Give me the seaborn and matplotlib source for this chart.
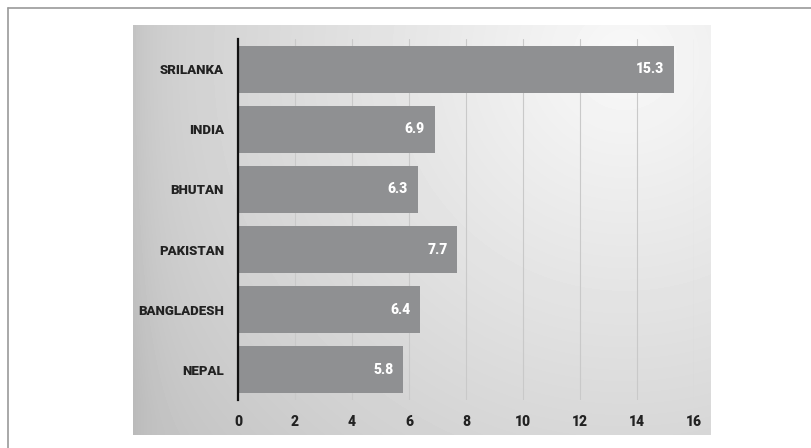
import numpy as np
import pandas as pd
import matplotlib
matplotlib.use("Agg")
import matplotlib.pyplot as plt
from matplotlib.lines import Line2D
import seaborn as sns

countries = ["SRILANKA", "INDIA", "BHUTAN", "PAKISTAN", "BANGLADESH", "NEPAL"]
values = [15.3, 6.9, 6.3, 7.7, 6.4, 5.8]
x_ticks = [0, 2, 4, 6, 8, 10, 12, 14, 16]

df = pd.DataFrame({"country": countries, "value": values})

sns.set_theme(style="white")
plt.rcParams["font.family"] = ["Roboto", "DejaVu Sans"]

W, H = 812, 448
fig = plt.figure(figsize=(W / 100, H / 100), dpi=100)
fig.patch.set_facecolor("white")

# thin frame along top and left edges
fig.add_artist(Line2D([8 / W, 1], [1 - 8 / H, 1 - 8 / H], color="#9a9a9a", lw=1.2))
fig.add_artist(Line2D([8 / W, 8 / W], [0, 1 - 8 / H], color="#9a9a9a", lw=1.2))

# gradient panel behind the chart
px0, py0, px1, py1 = 133, 25, 711, 435
bg = fig.add_axes([px0 / W, 1 - py1 / H, (px1 - px0) / W, (py1 - py0) / H], zorder=0)
gw, gh = px1 - px0, py1 - py0
xx, yy = np.meshgrid(np.arange(gw), np.arange(gh))
cx, cy = 0.85 * gw, 0.08 * gh
d = np.sqrt((xx - cx) ** 2 + (yy - cy) ** 2) / gw
shade = np.clip(0.975 - 0.20 * d, 0.77, 0.98)
shade -= 0.04 * np.exp(-xx / 20.0)
bg.imshow(shade, cmap="gray", vmin=0, vmax=1, aspect="auto", interpolation="bilinear")
bg.set_axis_off()

# main chart
ax = fig.add_axes([238 / W, 1 - 400 / H, (694 - 238) / W, (400 - 39) / H], zorder=1)
ax.patch.set_alpha(0)
sns.barplot(data=df, x="value", y="country", orient="h", color="#8f9092",
            saturation=1, width=0.78, edgecolor="none", linewidth=0, ax=ax, zorder=2)

ax.set_xlim(0, 16)
ax.set_ylim(len(countries) - 0.5, -0.5)
ax.set_xticks(x_ticks)
ax.set_xticklabels([str(t) for t in x_ticks], fontsize=10, fontweight="black", color="#222222")
ax.set_yticklabels(countries, fontsize=9.5, fontweight="black", color="#222222")
ax.set_xlabel("")
ax.set_ylabel("")

ax.grid(axis="x", color="#c9c9c9", lw=0.8, zorder=0)
ax.set_axisbelow(True)
ax.tick_params(axis="x", direction="in", length=12, width=0.9, color="#444444", pad=11)
ax.tick_params(axis="y", length=0, pad=10)

for s in ["top", "right", "bottom"]:
    ax.spines[s].set_visible(False)
ax.spines["left"].set_color("#111111")
ax.spines["left"].set_linewidth(1.6)

for bar, v in zip(ax.patches, values):
    ax.annotate(f"{v:.1f}", xy=(bar.get_width(), bar.get_y() + bar.get_height() / 2),
                xytext=(-7, 0), textcoords="offset points", ha="right", va="center",
                color="white", fontsize=10, fontweight="black", zorder=3)

fig.savefig("out.png", dpi=100)
